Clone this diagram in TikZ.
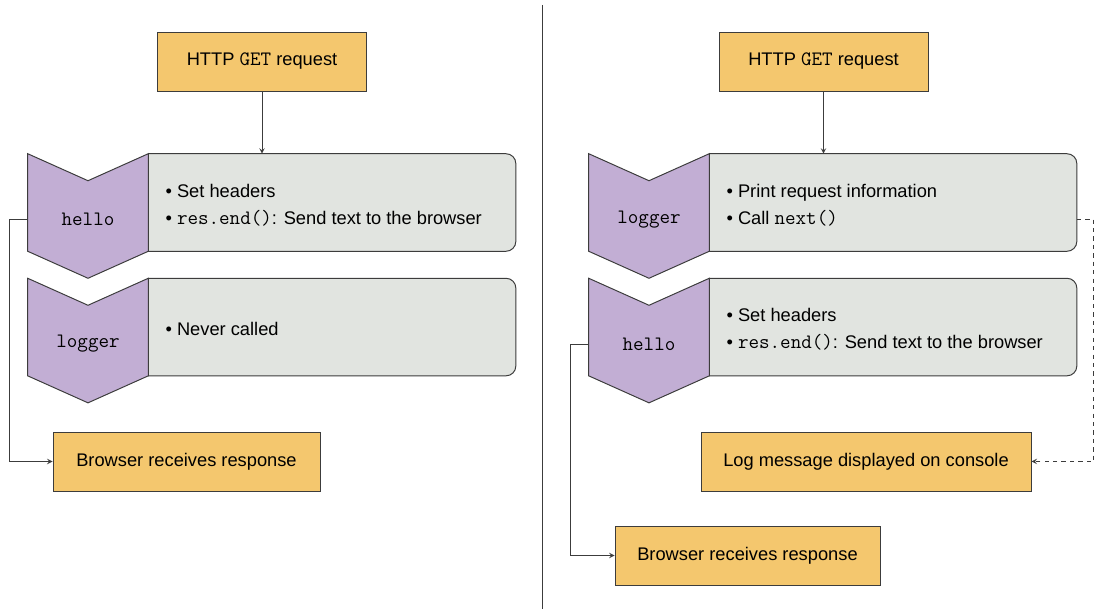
\documentclass[tikz,border=0pt]{standalone}
\usepackage{fontspec}
\setmainfont{Liberation Sans}
\setmonofont[Scale=1.12]{Latin Modern Mono}
\usetikzlibrary{positioning}
\definecolor{reqyellow}{HTML}{F4C76E}
\definecolor{notegray}{HTML}{E1E4E0}
\definecolor{tagpurple}{HTML}{C2AED4}
\definecolor{edgegray}{HTML}{3C3C3C}
\begin{document}
\begin{tikzpicture}[>=stealth,
    every node/.style={font=\fontsize{13}{19}\selectfont},
    event/.style={draw=edgegray,line width=0.7pt,fill=reqyellow,minimum height=1.475cm},
    tagspace/.style={minimum width=3cm,minimum height=2.425cm,inner sep=0pt},
    notespace/.style={minimum width=9.175cm,minimum height=2.425cm,inner sep=0pt},
    note/.style={anchor=west,align=left,inner sep=0pt,yshift=-0.06cm},
    flow/.style={->,draw=edgegray,line width=0.7pt}]
    \useasboundingbox (0,0) rectangle (27.35,-15.225);
    \draw[edgegray,line width=0.7pt] (13.55,-0.125)--(13.55,-15.225);
    % left side: hello ends the request
    \node[event,minimum width=5.225cm] (reqL) at (6.55,-1.5375) {HTTP \texttt{GET} request};
    \node[tagspace] (hellotagL) at (2.2,-5.0625) {};
    \node[notespace,right=0pt of hellotagL] (hellotxtL) {};
    \node[tagspace,below=0.675cm of hellotagL] (loggertagL) {};
    \node[notespace,right=0pt of loggertagL] (loggertxtL) {};
    \node[event,minimum width=6.675cm] (browserL) at (4.6625,-11.5375) {Browser receives response};
    % right side: logger first, then hello
    \node[event,minimum width=5.225cm] (reqR) at (20.5875,-1.5375) {HTTP \texttt{GET} request};
    \node[tagspace] (loggertagR) at (16.225,-5.0625) {};
    \node[notespace,right=0pt of loggertagR] (loggertxtR) {};
    \node[tagspace,below=0.675cm of loggertagR] (hellotagR) {};
    \node[notespace,right=0pt of hellotagR] (hellotxtR) {};
    \node[event,minimum width=8.25cm] (logR) at (21.65,-11.5375) {Log message displayed on console};
    \node[event,minimum width=6.625cm] (browserR) at (18.6875,-13.8875) {Browser receives response};
    % note panels and chevrons
    \foreach \b in {hellotxtL,loggertxtL,loggertxtR,hellotxtR}
        \draw[edgegray,line width=0.7pt,fill=notegray] (\b.south west)--(\b.north west)--([xshift=-7pt]\b.north east)
            arc[start angle=90,end angle=0,radius=7pt]--([yshift=7pt]\b.south east)
            arc[start angle=0,end angle=-90,radius=7pt]--cycle;
    \foreach \t in {hellotagL,loggertagL,loggertagR,hellotagR}
        \draw[edgegray,line width=0.7pt,fill=tagpurple] (\t.north west)--([yshift=-0.675cm]\t.north)--(\t.north east)
            --(\t.south east)--([yshift=-0.675cm]\t.south)--(\t.south west)--cycle;
    \node (hellolabL) at ([yshift=-0.425cm]hellotagL.center) {\texttt{hello}};
    \node (loggerlabL) at ([yshift=-0.425cm]loggertagL.center) {\texttt{logger}};
    \node (loggerlabR) at ([yshift=-0.425cm]loggertagR.center) {\texttt{logger}};
    \node (hellolabR) at ([yshift=-0.425cm]hellotagR.center) {\texttt{hello}};
    \node[note] (hellonoteL) at ([xshift=0.425cm]hellotxtL.west) {\textbullet\ Set headers\\\textbullet\ \texttt{res.end()}: Send text to the browser};
    \node[note] (loggernoteL) at ([xshift=0.425cm]loggertxtL.west) {\textbullet\ Never called};
    \node[note] (loggernoteR) at ([xshift=0.425cm]loggertxtR.west) {\textbullet\ Print request information\\\textbullet\ Call \texttt{next()}};
    \node[note] (hellonoteR) at ([xshift=0.425cm]hellotxtR.west) {\textbullet\ Set headers\\\textbullet\ \texttt{res.end()}: Send text to the browser};
    % connectors
    \draw[flow] (reqL.south)--(reqL.south |- hellotxtL.north);
    \draw[flow] (reqR.south)--(reqR.south |- loggertxtR.north);
    \draw[flow] (hellotagL.west |- hellolabL)--++(-0.45,0) |- (browserL.west);
    \draw[flow] (hellotagR.west |- hellolabR)--++(-0.45,0) |- (browserR.west);
    \draw[flow,dashed] (loggertxtR.east |- loggerlabR)--++(0.42,0) |- (logR.east);
\end{tikzpicture}
\end{document}
